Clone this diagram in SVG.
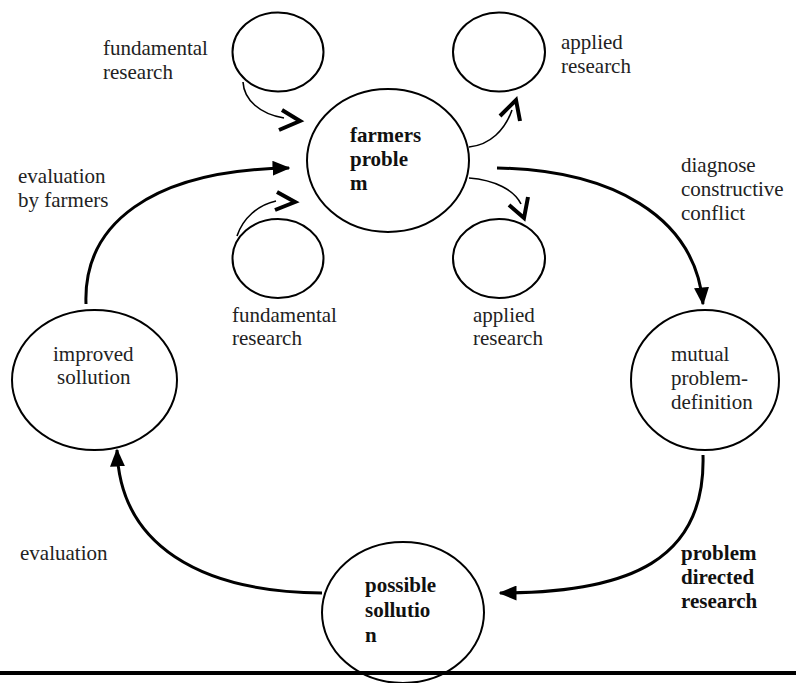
<svg xmlns="http://www.w3.org/2000/svg" width="796" height="683" viewBox="0 0 796 683">
<style>
.n{fill:#fff;stroke:#000;stroke-width:2}
text{font-family:'Liberation Serif','Times New Roman',Times,serif;font-size:21px;fill:#222}
.b{font-weight:bold;fill:#111}
.big{fill:none;stroke:#000;stroke-width:3}
.sm{fill:none;stroke:#000;stroke-width:1.6}
.chev{fill:none;stroke:#000;stroke-width:4;stroke-linejoin:miter}
</style>
<defs>
<marker id="ah" markerWidth="6" markerHeight="5" refX="5.5" refY="2.5" orient="auto" markerUnits="strokeWidth">
<path d="M0,0 L6,2.5 L0,5 Z" fill="#000"/>
</marker>
</defs>
<rect width="796" height="683" fill="#fff"/>
<g id="fundamental-top">
<ellipse class="n" cx="278" cy="52" rx="45.5" ry="39.5"/>
<text x="103" y="55">fundamental</text>
<text x="103" y="79">research</text>
</g>
<g id="applied-top">
<ellipse class="n" cx="499" cy="52" rx="46" ry="39.5"/>
<text x="561" y="49">applied</text>
<text x="561" y="73">research</text>
</g>
<g id="farmers">
<ellipse class="n" cx="388" cy="160.5" rx="81" ry="71.5"/>
<text class="b" x="350" y="142">farmers</text>
<text class="b" x="350" y="166">proble</text>
<text class="b" x="350" y="190">m</text>
</g>
<g id="fundamental-bottom">
<ellipse class="n" cx="278" cy="258.5" rx="45.5" ry="39.5"/>
<text x="232" y="322">fundamental</text>
<text x="232" y="345">research</text>
</g>
<g id="applied-bottom">
<ellipse class="n" cx="499" cy="258.5" rx="46" ry="39.5"/>
<text x="473" y="322">applied</text>
<text x="473" y="345">research</text>
</g>
<g id="mutual">
<ellipse class="n" cx="705" cy="380" rx="74" ry="70"/>
<text x="671" y="361">mutual</text>
<text x="671" y="385">problem-</text>
<text x="671" y="409">definition</text>
</g>
<g id="improved">
<ellipse class="n" cx="94.5" cy="380" rx="82.5" ry="70"/>
<text x="53" y="361">improved</text>
<text x="57" y="384">sollution</text>
</g>
<g id="possible">
<ellipse class="n" cx="403" cy="612.5" rx="81" ry="70.5"/>
<text class="b" x="365" y="592">possible</text>
<text class="b" x="365" y="617">sollutio</text>
<text class="b" x="365" y="642">n</text>
</g>
<g id="labels">
<text x="18" y="183">evaluation</text>
<text x="18" y="207">by farmers</text>
<text x="681" y="172">diagnose</text>
<text x="681" y="196">constructive</text>
<text x="681" y="220">conflict</text>
<text x="20" y="560">evaluation</text>
<text class="b" x="681" y="560">problem</text>
<text class="b" x="681" y="584">directed</text>
<text class="b" x="681" y="608">research</text>
</g>
<g id="connectors">
<path class="big" d="M86 304 C83 225 150 170 289 168" marker-end="url(#ah)"/>
<path class="big" d="M497 168 C610 170 695 215 703 304" marker-end="url(#ah)"/>
<path class="big" d="M703 455 C706 560 630 593 500 593" marker-end="url(#ah)"/>
<path class="big" d="M322 593 C200 592 120 545 117 450" marker-end="url(#ah)"/>
<path class="sm" d="M243 82 C244 100 260 114 284 118"/>
<path class="chev" d="M282 110 L300 121 L279 130"/>
<path class="sm" d="M469 147 C490 145 505 130 512 110"/>
<path class="chev" d="M500 116 L516 100 L520 121"/>
<path class="sm" d="M469 178 C495 180 514 190 521 204"/>
<path class="chev" d="M509 205 L524 218 L528 197"/>
<path class="sm" d="M237 236 C243 218 258 205 276 201"/>
<path class="chev" d="M277 192 L295 202 L275 210"/>
</g>
<line x1="0" y1="673" x2="796" y2="673" stroke="#000" stroke-width="4"/>
</svg>
